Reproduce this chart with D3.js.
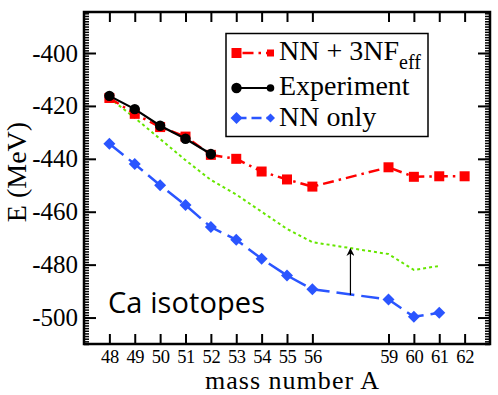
<!DOCTYPE html>
<html><head><meta charset="utf-8">
<script src="https://cdn.jsdelivr.net/npm/d3@7"></script>
<style>
body{margin:0;background:#fff;}
svg{display:block;}
</style></head>
<body>
<svg id="chart" width="498" height="395"></svg>
<script>
// ---- data ----
const massTicks = [48,49,50,51,52,53,54,55,56,59,60,61,62];
const nn3nfA = [48,49,50,51,52,53,54,55,56,59,60,61,62];
const nn3nfE = [-417,-423,-428,-431.6,-438.5,-440,-444.8,-447.8,-450.5,-443.2,-446.8,-446.6,-446.6];
const expA = [48,49,50,51,52];
const expE = [-416.2,-421.2,-427.5,-432.4,-438.2];
const nnA = [48,49,50,51,52,53,54,55,56,59,60,61];
const nnE = [-434.3,-442,-450,-457.5,-465.8,-470.6,-477.8,-484.1,-489.3,-493.2,-499.7,-498.2];
const greenA = [48,49,50,51,52,53,54,55,56,59,60,61];
const greenE = [-417,-424.5,-432.5,-440.5,-448,-453.5,-460,-466.5,-471.5,-476,-482,-480.5];
const arrowA = 57.5, arrowFrom = -491.5, arrowTo = -474;
const yMajor = [-500,-480,-460,-440,-420,-400];
const legendLabels = ["NN + 3NF", "Experiment", "NN only"];

const svg = d3.select("#chart");
const L=84,R=490,T=12,B=344;
const x = d3.scaleLinear().domain([47,63]).range([L,R]);
const y = d3.scaleLinear().domain([-510,-384.5]).range([B,T]);
const serif = "'Liberation Serif','Times New Roman',serif";

const RED="#ff0000", BLUE="#2a55ff", GREEN="#66e600";

// ---- axes ----
const yMinor = d3.range(-510,-384,1);
function styleAxis(g){ g.select(".domain").remove(); g.selectAll("line").attr("stroke","#000").attr("stroke-width",2); }

svg.append("g").attr("transform",`translate(0,${B})`)
  .call(d3.axisBottom(x).tickValues(massTicks).tickSizeInner(-10).tickSizeOuter(0).tickPadding(5.5).tickFormat(d=>String(d)))
  .call(styleAxis)
  .call(g=>g.selectAll("text").attr("font-family",serif).attr("font-size",18.5).attr("letter-spacing",-0.4).attr("fill","#000"));
svg.append("g").attr("transform",`translate(0,${T})`)
  .call(d3.axisTop(x).tickValues(massTicks).tickSizeInner(-10).tickSizeOuter(0).tickFormat(""))
  .call(styleAxis);
svg.append("g").attr("transform",`translate(${L},0)`)
  .call(d3.axisLeft(y).tickValues(yMinor).tickSizeInner(-5).tickSizeOuter(0).tickFormat(""))
  .call(styleAxis).call(g=>g.selectAll("line").attr("stroke-width",1.5));
svg.append("g").attr("transform",`translate(${R},0)`)
  .call(d3.axisRight(y).tickValues(yMinor).tickSizeInner(-5).tickSizeOuter(0).tickFormat(""))
  .call(styleAxis).call(g=>g.selectAll("line").attr("stroke-width",1.5));
svg.append("g").attr("transform",`translate(${L},0)`)
  .call(d3.axisLeft(y).tickValues(yMajor).tickSizeInner(-12).tickSizeOuter(0).tickPadding(6).tickFormat(d=>String(d)))
  .call(styleAxis)
  .call(g=>g.selectAll("text").attr("font-family",serif).attr("font-size",25).attr("fill","#000"));
svg.append("g").attr("transform",`translate(${R},0)`)
  .call(d3.axisRight(y).tickValues(yMajor).tickSizeInner(-12).tickSizeOuter(0).tickFormat(""))
  .call(styleAxis);

svg.append("rect").attr("x",L).attr("y",T).attr("width",R-L).attr("height",B-T)
  .attr("fill","none").attr("stroke","#000").attr("stroke-width",2.5);

// axis titles
svg.append("text").attr("x",(L+R)/2+5).attr("y",388.8).attr("text-anchor","middle")
  .attr("font-family",serif).attr("font-size",26).attr("textLength",174).text("mass number A");
svg.append("text").attr("transform",`translate(26,${(T+B)/2-6}) rotate(-90)`).attr("text-anchor","middle")
  .attr("font-family",serif).attr("font-size",28).text("E (MeV)");

// ---- series ----
const line = d3.line().x(d=>x(d[0])).y(d=>y(d[1]));
const zip = (a,b)=>a.map((v,i)=>[v,b[i]]);

svg.append("path").datum(zip(greenA,greenE)).attr("d",line).attr("fill","none")
  .attr("stroke",GREEN).attr("stroke-width",2).attr("stroke-dasharray","3,3");

svg.append("path").datum(zip(nnA,nnE)).attr("d",line).attr("fill","none")
  .attr("stroke",BLUE).attr("stroke-width",2.5).attr("stroke-dasharray","18,7");
function diamondPath(cx,cy,h){return `M${cx},${cy-h}L${cx+h},${cy}L${cx},${cy+h}L${cx-h},${cy}Z`;}
svg.append("g").selectAll("path").data(zip(nnA,nnE)).join("path")
  .attr("d",d=>diamondPath(x(d[0]),y(d[1]),6)).attr("fill",BLUE);

svg.append("path").datum(zip(nn3nfA,nn3nfE)).attr("d",line).attr("fill","none")
  .attr("stroke",RED).attr("stroke-width",2.5).attr("stroke-dasharray","11,5,2.5,5");
svg.append("g").selectAll("rect").data(zip(nn3nfA,nn3nfE)).join("rect")
  .attr("x",d=>x(d[0])-5).attr("y",d=>y(d[1])-5).attr("width",10).attr("height",10).attr("fill",RED);

svg.append("path").datum(zip(expA,expE)).attr("d",line).attr("fill","none")
  .attr("stroke","#000").attr("stroke-width",2.2);
svg.append("g").selectAll("circle").data(zip(expA,expE)).join("circle")
  .attr("cx",d=>x(d[0])).attr("cy",d=>y(d[1])).attr("r",5.2).attr("fill","#000");

// arrow
svg.append("defs").append("marker").attr("id","ah").attr("viewBox","0 0 10 10")
  .attr("refX",9).attr("refY",5).attr("markerWidth",8).attr("markerHeight",8).attr("orient","auto")
  .attr("markerUnits","userSpaceOnUse")
  .append("path").attr("d","M0,0L10,5L0,10L3,5Z").attr("fill","#000");
svg.append("line").attr("x1",x(arrowA)).attr("x2",x(arrowA)).attr("y1",y(arrowFrom)).attr("y2",y(arrowTo))
  .attr("stroke","#000").attr("stroke-width",1.2).attr("marker-end","url(#ah)");

// Ca isotopes label
svg.append("text").attr("x",108).attr("y",313).attr("font-family","'Open Sans','Liberation Sans',sans-serif")
  .attr("font-size",29).attr("textLength",157).attr("fill","#000").text("Ca isotopes");

// ---- legend ----
const lg = svg.append("g");
lg.append("rect").attr("x",226).attr("y",33.5).attr("width",202).attr("height",103)
  .attr("fill","#fff").attr("stroke","#000").attr("stroke-width",1.5);
const rows=[53,88,118], sx1=236.5, sx2=270.5, tx=279;
// red
lg.append("line").attr("x1",sx1).attr("x2",sx2).attr("y1",rows[0]).attr("y2",rows[0])
  .attr("stroke",RED).attr("stroke-width",2.5).attr("stroke-dasharray","11,5,2.5,5").attr("stroke-dashoffset",-6);
lg.append("rect").attr("x",sx1-5).attr("y",rows[0]-5).attr("width",10).attr("height",10).attr("fill",RED);
lg.append("rect").attr("x",sx2-3.5).attr("y",rows[0]-3.5).attr("width",7).attr("height",7).attr("fill",RED);
// black
lg.append("line").attr("x1",sx1).attr("x2",sx2).attr("y1",rows[1]).attr("y2",rows[1]).attr("stroke","#000").attr("stroke-width",2.2);
lg.append("circle").attr("cx",sx1).attr("cy",rows[1]).attr("r",5.2).attr("fill","#000");
lg.append("circle").attr("cx",sx2).attr("cy",rows[1]).attr("r",3.8).attr("fill","#000");
// blue
lg.append("line").attr("x1",sx1).attr("x2",sx2).attr("y1",rows[2]).attr("y2",rows[2])
  .attr("stroke",BLUE).attr("stroke-width",2.5).attr("stroke-dasharray","10,5");
lg.append("path").attr("d",diamondPath(sx1,rows[2],6)).attr("fill",BLUE);
lg.append("path").attr("d",diamondPath(sx2,rows[2],4.5)).attr("fill",BLUE);

const t0 = lg.append("text").attr("x",tx).attr("y",rows[0]+7).attr("font-family",serif).attr("font-size",28).text(legendLabels[0]);
t0.append("tspan").attr("font-size",20).attr("dy",9).text("eff");
lg.append("text").attr("x",tx).attr("y",rows[1]+7).attr("font-family",serif).attr("font-size",28).text(legendLabels[1]);
lg.append("text").attr("x",tx).attr("y",rows[2]+8).attr("font-family",serif).attr("font-size",28).text(legendLabels[2]);
</script>
</body></html>
